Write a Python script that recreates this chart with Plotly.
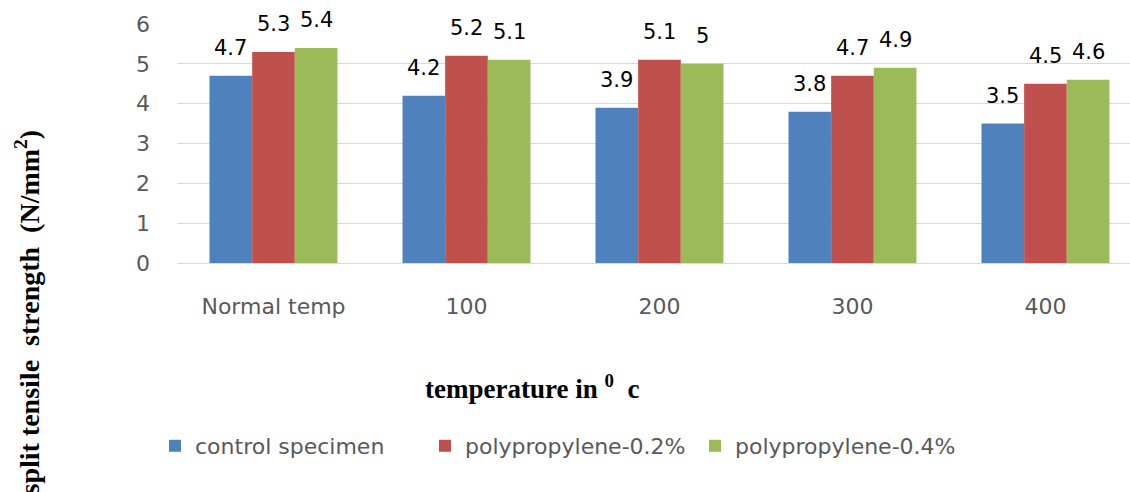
import plotly.graph_objects as go

categories = ["Normal temp", "100", "200", "300", "400"]
control = [4.7, 4.2, 3.9, 3.8, 3.5]
pp02 = [5.3, 5.2, 5.1, 4.7, 4.5]
pp04 = [5.4, 5.1, 5.0, 4.9, 4.6]
series_names = ["control specimen", "polypropylene-0.2%", "polypropylene-0.4%"]
colors = ["#4F81BD", "#C0504D", "#9BBB59"]

W, H = 1130, 492
L, R, T, B = 177, 0, 24, 229
pw, ph = W - L - R, H - T - B
XMAX = 4.438
BARGAP = 0.337

def px_x(p):
    return (p - L) / pw

def px_y(p):
    return (H - B - p) / ph

cat_px = pw / (XMAX + 0.5)
bar_px = cat_px * (1 - BARGAP) / 3

FONT = "DejaVu Sans"

fig = go.Figure()
annotations = []
for i, (name, vals, c) in enumerate(zip(series_names, [control, pp02, pp04], colors)):
    fig.add_trace(go.Bar(
        x=categories, y=vals, name=name, marker_color=c, marker_line_width=0,
    ))
    for j, v in enumerate(vals):
        annotations.append(dict(
            x=j, y=v, xref="x", yref="y", text=f"{v:g}", showarrow=False,
            xanchor="center", yanchor="bottom", xshift=(i - 1) * bar_px, yshift=14,
            font=dict(family=FONT, size=21, color="black"),
        ))

annotations += [
    dict(text="<b>temperature in <sup>0</sup>  c</b>", xref="paper", yref="paper",
         x=px_x(532), y=px_y(387), showarrow=False, xanchor="center", yanchor="middle",
         font=dict(family="Liberation Serif", size=27, color="black")),
    dict(text="<b>split tensile  strength  (N/mm<sup>2</sup>)</b>", xref="paper", yref="paper",
         x=px_x(28), y=px_y(128), showarrow=False, textangle=-90, xanchor="center", yanchor="top",
         font=dict(family="Liberation Serif", size=28, color="black")),
]

fig.update_layout(
    width=W, height=H,
    margin=dict(l=L, r=R, t=T, b=B),
    paper_bgcolor="white", plot_bgcolor="white",
    barmode="group", bargap=BARGAP, bargroupgap=0,
    showlegend=True,
    legend=dict(orientation="h", x=px_x(155), y=px_y(446), yanchor="middle", xanchor="left",
                font=dict(family=FONT, size=22, color="#595959"),
                entrywidth=225, entrywidthmode="pixels"),
    xaxis=dict(range=[-0.5, XMAX], showgrid=False, showline=False, zeroline=False,
               tickfont=dict(family=FONT, size=22, color="#595959"),
               ticks="", ticklabelstandoff=28),
    yaxis=dict(range=[0, 6], dtick=1, showgrid=True, gridcolor="#D9D9D9", gridwidth=1.3,
               zeroline=True, zerolinecolor="#D9D9D9", zerolinewidth=1.3, showline=False,
               tickfont=dict(family=FONT, size=22, color="#595959"),
               ticks="", ticklabelstandoff=26),
    annotations=annotations,
)
fig.write_html("out.html")
